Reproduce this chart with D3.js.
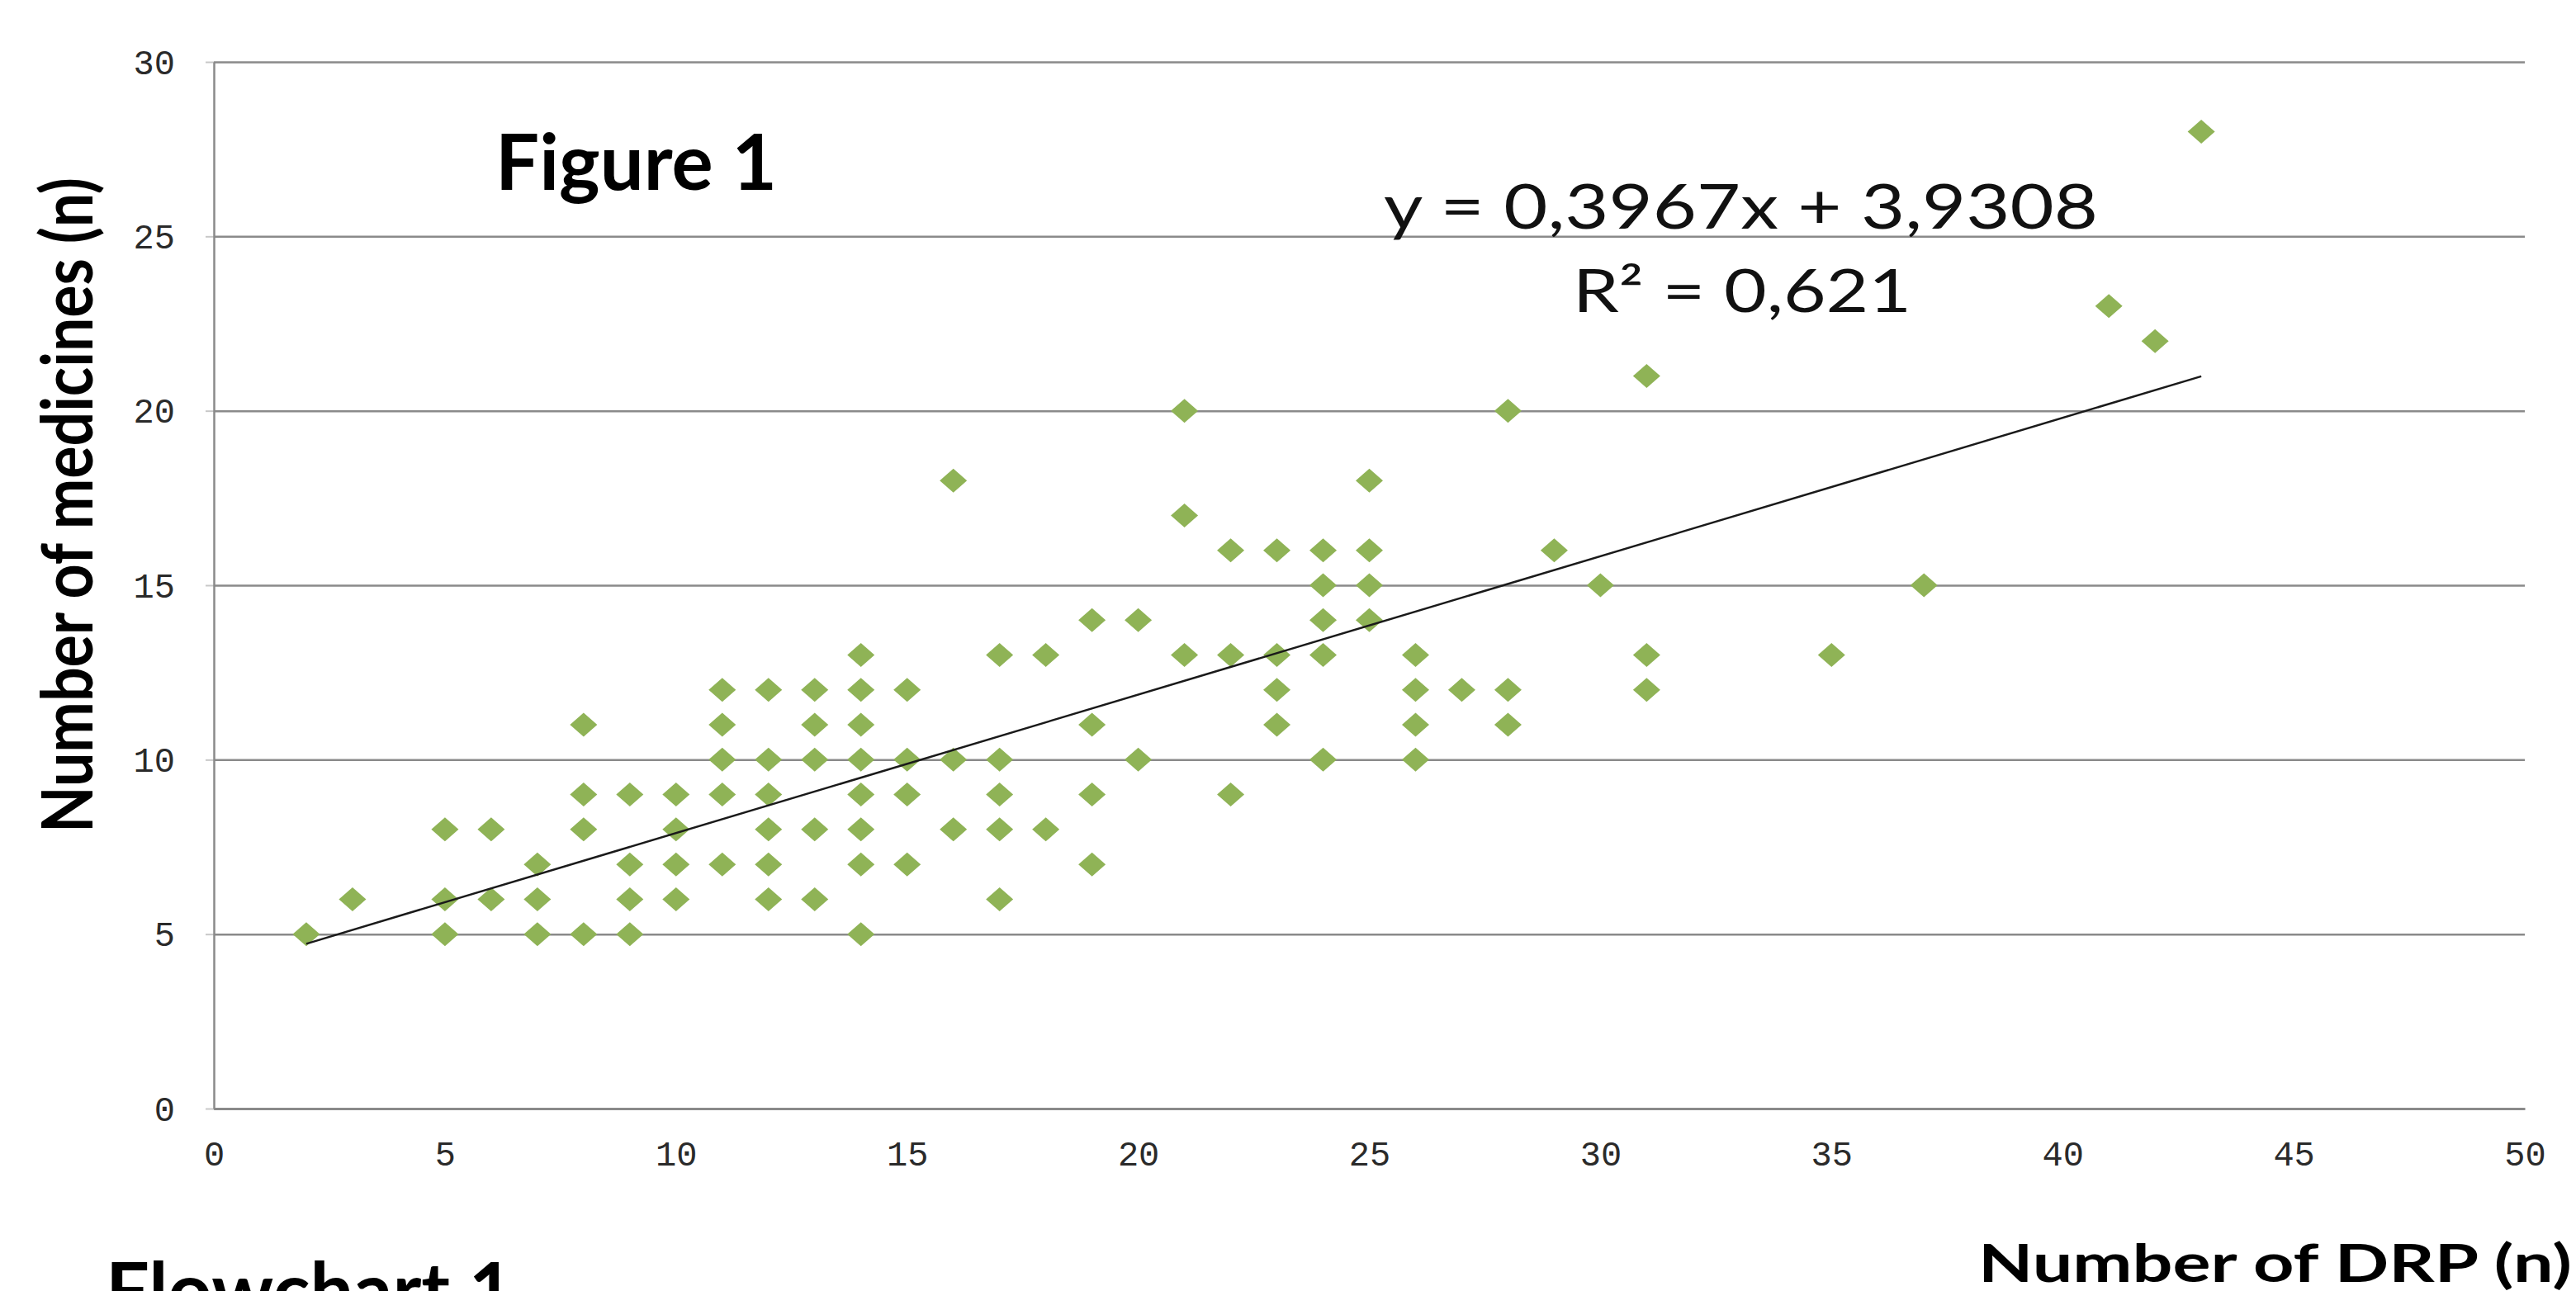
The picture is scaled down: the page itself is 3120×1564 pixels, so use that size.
<!DOCTYPE html>
<html>
<head>
<meta charset="utf-8">
<script src="https://cdn.jsdelivr.net/npm/d3@7"></script>
<style>
  html, body { margin: 0; padding: 0; background: #fff; }
  svg { display: block; }
</style>
</head>
<body>
<svg id="chart" width="3120" height="1564"></svg>
<script>
// ---- data ----
const drp = [
  2,5,7,8,9,14,
  3,5,6,7,9,10,12,13,17,
  7,9,10,11,12,14,15,19,
  5,6,8,10,12,13,14,16,17,18,
  8,9,10,11,12,14,15,17,19,22,
  11,12,13,14,15,16,17,20,24,26,
  8,11,13,14,19,23,26,28,
  11,12,13,14,15,23,26,27,28,31,
  14,17,18,21,22,23,24,26,31,35,
  19,20,24,25,
  24,25,30,37,
  22,23,24,25,29,
  21,
  16,25,
  21,28,
  31,
  42,
  41,
  43
];
const medicines = [
  5,5,5,5,5,5,
  6,6,6,6,6,6,6,6,6,
  7,7,7,7,7,7,7,7,
  8,8,8,8,8,8,8,8,8,8,
  9,9,9,9,9,9,9,9,9,9,
  10,10,10,10,10,10,10,10,10,10,
  11,11,11,11,11,11,11,11,
  12,12,12,12,12,12,12,12,12,12,
  13,13,13,13,13,13,13,13,13,13,
  14,14,14,14,
  15,15,15,15,
  16,16,16,16,16,
  17,
  18,18,
  20,20,
  21,
  22,
  23,
  28
];
const xTicks = [0,5,10,15,20,25,30,35,40,45,50];
const yTicks = [0,5,10,15,20,25,30];
const trendSlope = 0.3967;
const trendIntercept = 3.9308;
const trendRange = [2, 43];
const equationLabel = "y = 0,3967x + 3,9308";
const r2Label = "R\u00B2 = 0,621";
const figureLabel = "Figure 1";
const flowchartLabel = "Flowchart 1";
const xTitle = "Number of DRP (n)";
const yTitle = "Number of medicines (n)";

(function () {
// ---- layout ----
const svg = d3.select("#chart");
const pLeft = 259, pRight = 3058, pTop = 75, pBottom = 1343;
const x = d3.scaleLinear().domain([0, 50]).range([pLeft, pRight]);
const y = d3.scaleLinear().domain([0, 30]).range([pBottom, pTop]);

svg.append("rect").attr("width", 3120).attr("height", 1564).attr("fill", "#fff");

// small tick marks left of y axis
svg.append("g")
  .attr("transform", `translate(${pLeft},0)`)
  .call(d3.axisLeft(y).tickValues(yTicks).tickSize(10).tickFormat(""))
  .call(g => g.select(".domain").remove())
  .call(g => g.selectAll("line").attr("stroke", "#c8c8c8").attr("stroke-width", 2));

// y axis with gridlines
const gy = svg.append("g")
  .attr("transform", `translate(${pLeft},0)`)
  .call(d3.axisLeft(y).tickValues(yTicks).tickSize(-(pRight - pLeft)).tickSizeOuter(0).tickPadding(47));
gy.select(".domain").attr("stroke", "#8a8a8a").attr("stroke-width", 2.5);
gy.selectAll(".tick line").attr("stroke", "#8a8a8a").attr("stroke-width", 2.5);
gy.selectAll(".tick text")
  .attr("font-family", "'Liberation Mono', 'DejaVu Sans Mono', monospace")
  .attr("font-size", 42)
  .attr("fill", "#2a2a2a")
  .attr("dy", "0.34em");

// x axis
const gx = svg.append("g")
  .attr("transform", `translate(0,${pBottom})`)
  .call(d3.axisBottom(x).tickValues(xTicks).tickSize(0).tickSizeOuter(0));
gx.select(".domain").attr("stroke", "#8a8a8a").attr("stroke-width", 3);
gx.selectAll(".tick text")
  .attr("font-family", "'Liberation Mono', 'DejaVu Sans Mono', monospace")
  .attr("font-size", 42)
  .attr("fill", "#2a2a2a")
  .attr("y", 69)
  .attr("dy", 0);

// points (diamonds)
const pts = drp.map((d, i) => ({ x: drp[i], y: medicines[i] }));
const diamond = "M0,-14.5L16.5,0L0,14.5L-16.5,0Z";
svg.append("g")
  .selectAll("path")
  .data(pts)
  .join("path")
  .attr("d", diamond)
  .attr("transform", d => `translate(${x(d.x)},${y(d.y)})`)
  .attr("fill", "#8fb356");

// trend line
const line = d3.line().x(d => x(d)).y(d => y(trendSlope * d + trendIntercept));
svg.append("path")
  .datum(trendRange)
  .attr("d", line)
  .attr("fill", "none")
  .attr("stroke", "#1a1a1a")
  .attr("stroke-width", 2.5);

// texts
svg.append("text")
  .attr("x", 1676).attr("y", 277)
  .attr("font-family", "Lato, 'Open Sans', sans-serif")
  .attr("font-size", 75)
  .attr("fill", "#111")
  .attr("textLength", 865).attr("lengthAdjust", "spacingAndGlyphs")
  .text(equationLabel);

svg.append("text")
  .attr("x", 1905).attr("y", 378)
  .attr("font-family", "Lato, 'Open Sans', sans-serif")
  .attr("font-size", 72)
  .attr("fill", "#111")
  .attr("textLength", 410).attr("lengthAdjust", "spacingAndGlyphs")
  .text(r2Label);

svg.append("text")
  .attr("x", 600).attr("y", 230)
  .attr("font-family", "Lato, 'Open Sans', sans-serif")
  .attr("font-weight", "bold")
  .attr("font-size", 93)
  .attr("fill", "#000")
  .attr("textLength", 341).attr("lengthAdjust", "spacingAndGlyphs")
  .text(figureLabel);

svg.append("text")
  .attr("x", 128).attr("y", 1597)
  .attr("font-family", "Lato, 'Open Sans', sans-serif")
  .attr("font-weight", "bold")
  .attr("font-size", 93)
  .attr("fill", "#000")
  .attr("textLength", 494).attr("lengthAdjust", "spacingAndGlyphs")
  .text(flowchartLabel);

svg.append("text")
  .attr("x", 2396).attr("y", 1553)
  .attr("font-family", "Lato, 'Open Sans', sans-serif")
  .attr("font-weight", "bold")
  .attr("font-size", 64)
  .attr("fill", "#000")
  .attr("textLength", 719).attr("lengthAdjust", "spacingAndGlyphs")
  .text(xTitle);

svg.append("text")
  .attr("transform", "translate(112,612) rotate(-90)")
  .attr("text-anchor", "middle")
  .attr("font-family", "Lato, 'Open Sans', sans-serif")
  .attr("font-weight", "bold")
  .attr("font-size", 86)
  .attr("fill", "#000")
  .attr("textLength", 794).attr("lengthAdjust", "spacingAndGlyphs")
  .text(yTitle);
})();
</script>
</body>
</html>
